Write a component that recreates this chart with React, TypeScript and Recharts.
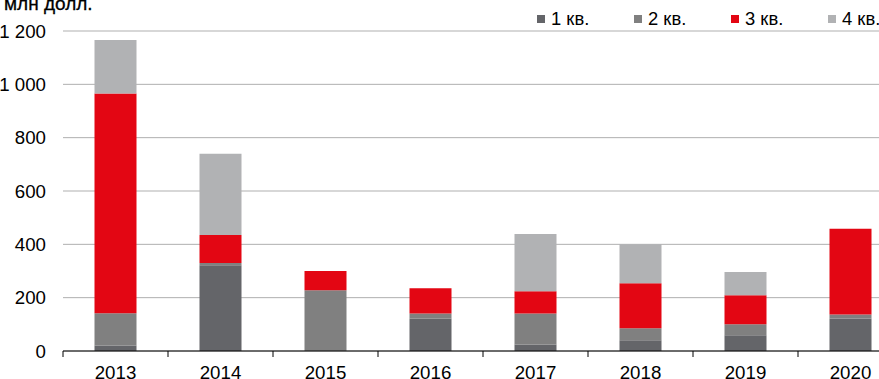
import React from 'react';
import { BarChart, Bar, XAxis, YAxis, CartesianGrid } from 'recharts';

const years = ['2013', '2014', '2015', '2016', '2017', '2018', '2019', '2020'];
const q1 = [21, 322, 0, 122, 24, 40, 59, 122];
const q2 = [121, 8, 228, 19, 117, 45, 41, 15];
const q3 = [824, 105, 72, 94, 83, 169, 109, 321];
const q4 = [200, 305, 0, 0, 215, 146, 87, 0];
const yTicks = [0, 200, 400, 600, 800, 1000, 1200];
const seriesKeys = ['q1', 'q2', 'q3', 'q4'];
const seriesNames = ['1 кв.', '2 кв.', '3 кв.', '4 кв.'];
const seriesColors = ['#646569', '#808080', '#e30613', '#b1b2b4'];
const unitLabel = 'млн долл.';

const data = years.map((y, i) => ({ year: y, q1: q1[i], q2: q2[i], q3: q3[i], q4: q4[i] }));

const FONT = '"Liberation Sans", Arial, sans-serif';
const FS = 18.7;
const CHART_W = 910;
const Y_W = 63;
const M_RIGHT = 7;
const HALF_BAND = (CHART_W - Y_W - M_RIGHT) / years.length / 2;

const fmt = (n: number) =>
  n >= 1000 ? `${Math.floor(n / 1000)} ${String(n % 1000).padStart(3, '0')}` : String(n);

function XTick(props: any) {
  const { x, y, payload } = props;
  return (
    <g>
      <line x1={x - HALF_BAND} x2={x - HALF_BAND} y1={y} y2={y + 6} stroke="#000" strokeWidth={1} />
      <text x={x} y={y + 27.5} textAnchor="middle" fontSize={FS} fill="#000" fontFamily={FONT}>
        {payload.value}
      </text>
    </g>
  );
}

export default function App() {
  return (
    <div
      style={{
        position: 'fixed',
        left: 0,
        top: 0,
        width: 879,
        height: 379,
        overflow: 'hidden',
        background: '#fff',
        fontFamily: FONT,
      }}
    >
      <div
        style={{
          position: 'absolute',
          left: 4,
          top: -6,
          fontSize: 19,
          fontWeight: 500,
          lineHeight: '20px',
          color: '#000',
          whiteSpace: 'nowrap',
          WebkitTextStroke: '0.3px #000',
        }}
      >
        {unitLabel}
      </div>
      <div style={{ position: 'absolute', left: 537, top: 9, display: 'flex', fontSize: 18.4, lineHeight: '20px' }}>
        {seriesNames.map((n, i) => (
          <div
            key={n}
            style={{ width: i < seriesNames.length - 1 ? 97 : 'auto', display: 'flex', alignItems: 'center', whiteSpace: 'nowrap' }}
          >
            <span style={{ display: 'inline-block', width: 8, height: 8, background: seriesColors[i], marginRight: 6 }} />
            <span>{n}</span>
          </div>
        ))}
      </div>
      <BarChart
        width={CHART_W}
        height={379}
        data={data}
        margin={{ top: 31, right: M_RIGHT, left: 0, bottom: 0 }}
        barCategoryGap="30%"
      >
        <CartesianGrid vertical={false} stroke="#afafaf" strokeWidth={1} />
        <XAxis
          dataKey="year"
          height={28}
          tickLine={false}
          tickSize={0}
          tickMargin={0}
          axisLine={{ stroke: '#000', strokeWidth: 1 }}
          tick={<XTick />}
          interval={0}
        />
        <YAxis
          width={Y_W}
          domain={[0, 1200]}
          ticks={yTicks}
          axisLine={false}
          tickLine={false}
          tickSize={6}
          tickMargin={11}
          tickFormatter={fmt}
          tick={{ fontSize: FS, fill: '#000', fontFamily: FONT }}
        />
        {seriesKeys.map((k, i) => (
          <Bar key={k} dataKey={k} name={seriesNames[i]} stackId="a" fill={seriesColors[i]} isAnimationActive={false} />
        ))}
      </BarChart>
    </div>
  );
}
